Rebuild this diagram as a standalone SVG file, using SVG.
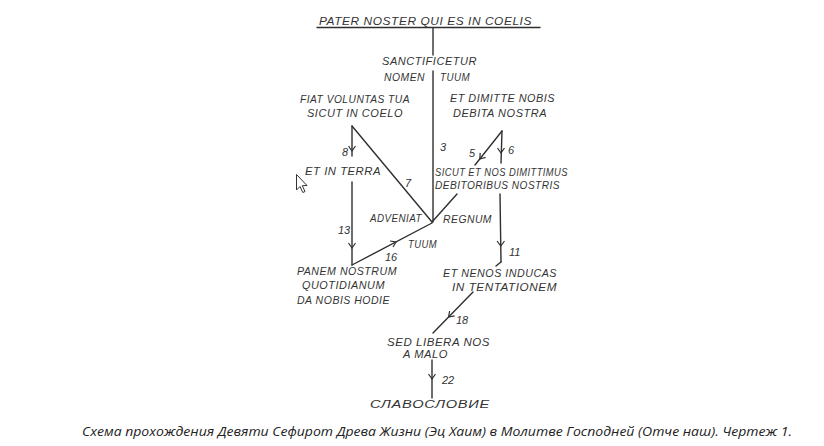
<svg xmlns="http://www.w3.org/2000/svg" width="824" height="446" viewBox="0 0 824 446">
<style>
.ln{stroke:#2f2f2f;stroke-width:1.4;fill:none;stroke-linecap:round}
.ar{stroke:#2f2f2f;stroke-width:1.2;fill:none}
.t{font-family:"Liberation Sans",Arial,sans-serif;font-style:italic;font-size:10.5px;fill:#333;letter-spacing:0.5px}
.n{font-family:"Liberation Sans",Arial,sans-serif;font-style:italic;font-size:11px;fill:#333}
.cap{font-family:"Open Sans","Noto Sans",sans-serif;font-style:italic;font-size:12.5px;fill:#222}
</style>
<rect width="824" height="446" fill="#fff"/>
<g id="connectors">
<line class="ln" x1="317" y1="27.5" x2="540" y2="27.5"/>
<line class="ln" x1="433" y1="28" x2="433" y2="55"/>
<line class="ln" x1="433" y1="71" x2="433" y2="222"/>
<line class="ln" x1="352" y1="126" x2="352" y2="156"/>
<line class="ln" x1="352" y1="182" x2="352" y2="265"/>
<line class="ln" x1="352" y1="126" x2="432" y2="222"/>
<line class="ln" x1="352" y1="265" x2="432" y2="223"/>
<line class="ln" x1="502" y1="131" x2="475" y2="165"/>
<line class="ln" x1="502" y1="131" x2="501" y2="163"/>
<line class="ln" x1="457" y1="194" x2="432" y2="222"/>
<line class="ln" x1="500" y1="194" x2="501" y2="262"/>
<line class="ln" x1="501" y1="262" x2="496" y2="266"/>
<line class="ln" x1="473" y1="292" x2="433" y2="333"/>
<line class="ln" x1="432" y1="360" x2="432" y2="398"/>
<path class="ar" d="M348.5,146 L352,151 L355.5,146"/>
<path class="ar" d="M348.5,243 L352,248 L355.5,243"/>
<path class="ar" d="M390,241 L396,242 L393,247"/>
<path class="ar" d="M480.2,152.9 L479.8,159 L485.6,157.3"/>
<path class="ar" d="M497.5,148 L501,153 L504.5,148"/>
<path class="ar" d="M497,241 L500.8,246 L504.5,241"/>
<path class="ar" d="M449.6,311 L448.6,317 L454.6,315.8"/>
<path class="ar" d="M428.5,374 L432,379 L435.5,374"/>
</g>
<g id="n-pater"><text class="t" x="319" y="25" textLength="213" lengthAdjust="spacingAndGlyphs">PATER NOSTER QUI ES IN COELIS</text></g>
<g id="n-sanct">
<text class="t" x="382" y="65" textLength="95" lengthAdjust="spacingAndGlyphs">SANCTIFICETUR</text>
<text class="t" x="384" y="81" textLength="41" lengthAdjust="spacingAndGlyphs">NOMEN</text>
<text class="t" x="440" y="81" textLength="30" lengthAdjust="spacingAndGlyphs">TUUM</text>
</g>
<g id="n-fiat">
<text class="t" x="300" y="103" textLength="110" lengthAdjust="spacingAndGlyphs">FIAT VOLUNTAS TUA</text>
<text class="t" x="307" y="117" textLength="96" lengthAdjust="spacingAndGlyphs">SICUT IN COELO</text>
</g>
<g id="n-terra"><text class="t" x="305" y="175" textLength="76" lengthAdjust="spacingAndGlyphs">ET IN TERRA</text></g>
<g id="n-dimitte">
<text class="t" x="450" y="102" textLength="105" lengthAdjust="spacingAndGlyphs">ET DIMITTE NOBIS</text>
<text class="t" x="453" y="117" textLength="94" lengthAdjust="spacingAndGlyphs">DEBITA NOSTRA</text>
</g>
<g id="n-sicut">
<text class="t" x="435" y="176" textLength="133" lengthAdjust="spacingAndGlyphs">SICUT ET NOS DIMITTIMUS</text>
<text class="t" x="435" y="189" textLength="125" lengthAdjust="spacingAndGlyphs">DEBITORIBUS NOSTRIS</text>
</g>
<g id="n-adveniat">
<text class="t" x="370" y="222" textLength="52" lengthAdjust="spacingAndGlyphs">ADVENIAT</text>
<text class="t" x="443" y="223" textLength="49" lengthAdjust="spacingAndGlyphs">REGNUM</text>
<text class="t" x="408" y="248" textLength="29" lengthAdjust="spacingAndGlyphs">TUUM</text>
</g>
<g id="n-panem">
<text class="t" x="297" y="275" textLength="100" lengthAdjust="spacingAndGlyphs">PANEM NOSTRUM</text>
<text class="t" x="302" y="289" textLength="83" lengthAdjust="spacingAndGlyphs">QUOTIDIANUM</text>
<text class="t" x="297" y="304" textLength="93" lengthAdjust="spacingAndGlyphs">DA NOBIS HODIE</text>
</g>
<g id="n-inducas">
<text class="t" x="443" y="277" textLength="114" lengthAdjust="spacingAndGlyphs">ET NENOS INDUCAS</text>
<text class="t" x="452" y="291" textLength="105" lengthAdjust="spacingAndGlyphs">IN TENTATIONEM</text>
</g>
<g id="n-libera">
<text class="t" x="387" y="346" textLength="103" lengthAdjust="spacingAndGlyphs">SED LIBERA NOS</text>
<text class="t" x="403" y="358" textLength="45" lengthAdjust="spacingAndGlyphs">A MALO</text>
</g>
<g id="n-slav"><text class="t" x="370" y="408" textLength="120" lengthAdjust="spacingAndGlyphs">СЛАВОСЛОВИЕ</text></g>
<g id="labels">
<text class="n" x="440" y="151">3</text>
<text class="n" x="342" y="156">8</text>
<text class="n" x="405" y="187">7</text>
<text class="n" x="469" y="157">5</text>
<text class="n" x="508" y="154">6</text>
<text class="n" x="338" y="234">13</text>
<text class="n" x="385" y="261">16</text>
<text class="n" x="509" y="256">11</text>
<text class="n" x="456" y="324">18</text>
<text class="n" x="442" y="384">22</text>
</g>
<g id="cursor"><path d="M296.5,174.5 L296.5,190 L300,186.5 L302.8,192.5 L305,191.5 L302.3,185.7 L307,185.5 Z" fill="#fff" stroke="#333" stroke-width="1"/></g>
<g id="caption"><text class="cap" x="82" y="436" textLength="710" lengthAdjust="spacingAndGlyphs">Схема прохождения Девяти Сефирот Древа Жизни (Эц Хаим) в Молитве Господней (Отче наш). Чертеж 1.</text></g>
</svg>
